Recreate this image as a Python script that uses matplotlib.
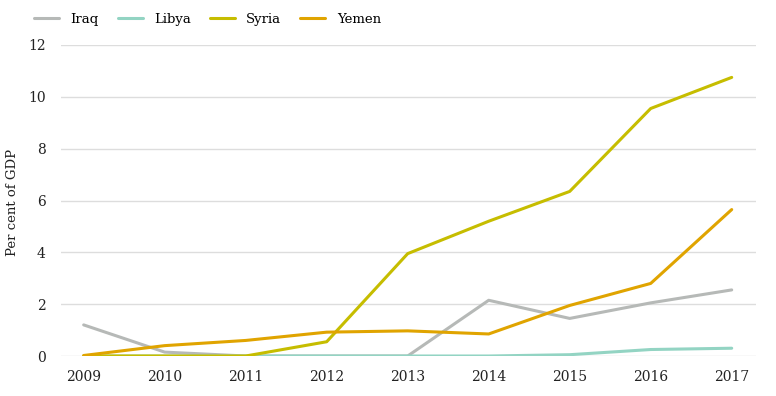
import numpy as np
import matplotlib.pyplot as plt

# per cent of GDP
years = [2009, 2010, 2011, 2012, 2013, 2014, 2015, 2016, 2017]
iraq = [1.2, 0.15, 0.0, 0.0, 0.0, 2.15, 1.45, 2.05, 2.55]
libya = [0.0, 0.0, 0.0, 0.0, 0.0, 0.0, 0.05, 0.25, 0.3]
syria = [0.0, 0.0, 0.0, 0.55, 3.95, 5.2, 6.35, 9.55, 10.75]
yemen = [0.02, 0.4, 0.6, 0.92, 0.97, 0.85, 1.95, 2.8, 5.65]

names = ["Iraq", "Libya", "Syria", "Yemen"]
colors = ["#b6b9b7", "#93d4c3", "#c6bd00", "#e0a400"]

plt.rcParams['font.family'] = ['DejaVu Serif']

fig = plt.figure(figsize=(7.76, 3.96), dpi=100)
ax = fig.add_axes([61 / 776, 40 / 396, 695 / 776, 311 / 396])

for vals, name, c in zip([iraq, libya, syria, yemen], names, colors):
    ax.plot(years, vals, color=c, lw=2.2, label=name, solid_capstyle='round')

ax.set_xlim(2008.72, 2017.3)
ax.set_ylim(0, 12)
ax.set_yticks(range(0, 13, 2))
ax.set_xticks(years)
ax.grid(axis='y', color='#dddddd', lw=1)
ax.set_axisbelow(True)
for s in ax.spines.values():
    s.set_visible(False)
ax.tick_params(length=0, labelsize=10, colors='#222222')
ax.tick_params(axis='y', pad=11)
ax.tick_params(axis='x', pad=10)

fig.text(13 / 776, 1 - 202 / 396, "Per cent of GDP", rotation=90, fontsize=9.5,
         color='#222222', ha='center', va='center')

fig.legend(loc='upper left', bbox_to_anchor=(22 / 776, 0.997), ncol=4, frameon=False,
           fontsize=9.5, handlelength=1.9, columnspacing=1.45, handletextpad=0.85)

fig.savefig("out.png", dpi=100)
